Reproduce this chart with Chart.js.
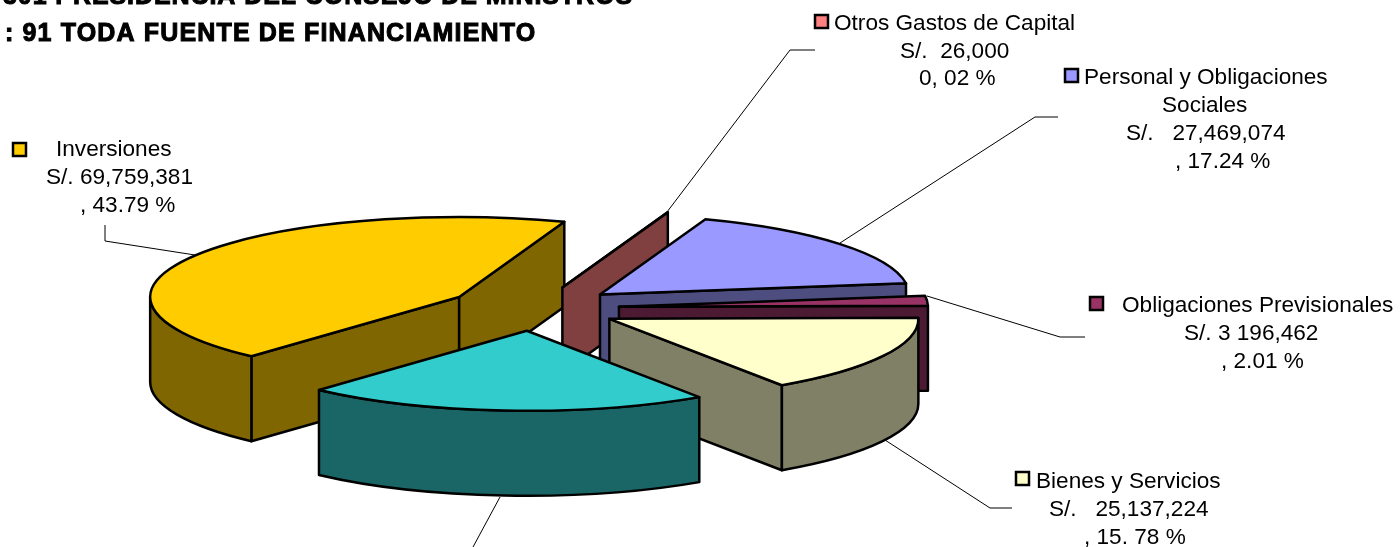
<!DOCTYPE html>
<html>
<head>
<meta charset="utf-8">
<title>Presidencia del Consejo de Ministros</title>
<script src="https://cdn.jsdelivr.net/npm/chart.js@4"></script>
<style>
    html, body { margin: 0; padding: 0; background: #fff; }
    canvas { display: block; }
</style>
</head>
<body>
<canvas id="pliego_pie" width="1400" height="547"></canvas>
<script>
// the last slice's label is cut off in the picture, its value is what is left of the total
const categories = ['Inversiones', 'Otros Gastos de Capital', 'Personal y Obligaciones Sociales', 'Obligaciones Previsionales', 'Bienes y Servicios', 'Resto'];
const amounts = [69759381, 26000, 27469074, 3196462, 25137224, 33716000];
const topColors = ['#FFCC00', '#FF8080', '#9999FF', '#993366', '#FFFFCC', '#33CCCC'];
const wallColors = ['#806600', '#804040', '#4D4D80', '#4D1A33', '#808066', '#1A6666'];

const titleLines = ['301 PRESIDENCIA DEL CONSEJO DE MINISTROS', ': 91 TODA FUENTE DE FINANCIAMIENTO'];
const titleSpots = [[3, 4, '0.92px'], [5, 41, '1.15px']];

// one text per line: [text, left, baseline]
const noteLines = [
    ['Inversiones', 56, 156], ['S/. 69,759,381', 46, 184], [', 43.79 %', 80, 212],
    ['Otros Gastos de Capital', 834, 30], ['S/.  26,000', 900, 58], ['0, 02 %', 919, 85],
    ['Personal y Obligaciones', 1084, 84], ['Sociales', 1162, 112], ['S/.   27,469,074', 1126, 140], [', 17.24 %', 1175, 168],
    ['Obligaciones Previsionales', 1122, 312], ['S/. 3 196,462', 1184, 340], [', 2.01 %', 1221, 368],
    ['Bienes y Servicios', 1036, 488], ['S/.   25,137,224', 1049, 516], [', 15. 78 %', 1084, 544]
];
const noteKeys = [[13, 143, 0], [815, 15, 1], [1065, 69, 2], [1090, 297, 3], [1016, 472, 4]];
const leaders = [
    [[105, 225], [105, 241], [195, 255]],
    [[815, 50], [790, 50], [667, 212]],
    [[1058, 117], [1035, 117], [840, 243]],
    [[1085, 337], [1060, 337], [927, 296]],
    [[1012, 508], [990, 508], [885, 440]],
    [[500, 497], [473, 547]]
];

// squashes the flat pie into the tilted disc and gives it walls
const tiltPlugin = {
    id: 'tilt',
    afterDatasetUpdate(chart, args, opts) {
        args.meta.data.forEach(function (arc) {
            const mid = (arc.startAngle + arc.endAngle) / 2;
            const push = arc.outerRadius * opts.explode;
            arc.x += Math.cos(mid) * push;
            arc.y += Math.sin(mid) * push;
        });
    },
    beforeDatasetsDraw(chart, args, opts) {
        const ctx = chart.ctx;
        const arcs = chart.getDatasetMeta(0).data;
        const view = makeView(chart, opts);
        ctx.save();
        ctx.lineWidth = 2.5;
        ctx.lineJoin = 'round';
        ctx.strokeStyle = '#000';
        arcs.forEach(function (arc, i) {
            drawWalls(ctx, arc, view, opts.depth, wallColors[i]);
        });
        ctx.restore();
        ctx.save();
        ctx.translate(opts.centerX, opts.centerY);
        ctx.scale(view.sx, view.sy);
        ctx.translate(-view.ox, -view.oy);
    },
    afterDatasetsDraw(chart, args, opts) {
        const ctx = chart.ctx;
        ctx.restore();
        const view = makeView(chart, opts);
        ctx.save();
        ctx.lineWidth = 2.5;
        ctx.lineJoin = 'round';
        ctx.strokeStyle = '#000';
        chart.getDatasetMeta(0).data.forEach(function (arc) {
            const apex = project(arc, view);
            ctx.beginPath();
            ctx.moveTo(apex.x, apex.y);
            ctx.ellipse(apex.x, apex.y, view.a, view.b, 0, arc.startAngle, arc.endAngle);
            ctx.closePath();
            ctx.stroke();
        });
        ctx.restore();
    }
};

function makeView(chart, opts) {
    const first = chart.getDatasetMeta(0).data[0];
    const r = first.outerRadius;
    return {
        a: opts.radiusX, b: opts.radiusY,
        sx: opts.radiusX / r, sy: opts.radiusY / r,
        ox: (chart.chartArea.left + chart.chartArea.right) / 2,
        oy: (chart.chartArea.top + chart.chartArea.bottom) / 2,
        cx: opts.centerX, cy: opts.centerY
    };
}

function project(arc, view) {
    return { x: view.cx + (arc.x - view.ox) * view.sx, y: view.cy + (arc.y - view.oy) * view.sy };
}

function drawFace(ctx, x1, y1, x2, y2, depth, color) {
    ctx.fillStyle = color;
    ctx.beginPath();
    ctx.moveTo(x1, y1);
    ctx.lineTo(x2, y2);
    ctx.lineTo(x2, y2 + depth);
    ctx.lineTo(x1, y1 + depth);
    ctx.closePath();
    ctx.fill();
    ctx.stroke();
}

function drawWalls(ctx, arc, view, depth, color) {
    const apex = project(arc, view);
    const edge = function (t) {
        return { x: apex.x + Math.cos(t) * view.a, y: apex.y + Math.sin(t) * view.b };
    };
    // a cut face shows only when it looks down towards the viewer
    if (Math.cos(arc.startAngle) < 0) {
        const p = edge(arc.startAngle);
        drawFace(ctx, apex.x, apex.y, p.x, p.y, depth, color);
    }
    if (Math.cos(arc.endAngle) > 0) {
        const p = edge(arc.endAngle);
        drawFace(ctx, apex.x, apex.y, p.x, p.y, depth, color);
    }
    // outer rim, front half only
    for (let k = -1; k <= 1; k++) {
        const from = Math.max(arc.startAngle + k * 2 * Math.PI, 0);
        const to = Math.min(arc.endAngle + k * 2 * Math.PI, Math.PI);
        if (to <= from) continue;
        ctx.fillStyle = color;
        ctx.beginPath();
        ctx.ellipse(apex.x, apex.y, view.a, view.b, 0, from, to);
        ctx.ellipse(apex.x, apex.y + depth, view.a, view.b, 0, to, from, true);
        ctx.closePath();
        ctx.fill();
        ctx.stroke();
    }
}

const notesPlugin = {
    id: 'notes',
    afterDraw(chart) {
        const ctx = chart.ctx;
        ctx.save();
        ctx.strokeStyle = '#000';
        ctx.lineWidth = 1;
        leaders.forEach(function (line) {
            ctx.beginPath();
            line.forEach(function (pt, i) {
                if (i === 0) ctx.moveTo(pt[0], pt[1]);
                else ctx.lineTo(pt[0], pt[1]);
            });
            ctx.stroke();
        });

        noteKeys.forEach(function (key) {
            ctx.fillStyle = topColors[key[2]];
            ctx.lineWidth = 2.5;
            ctx.fillRect(key[0], key[1], 13, 13);
            ctx.strokeRect(key[0], key[1], 13, 13);
        });

        ctx.fillStyle = '#000';
        ctx.textBaseline = 'alphabetic';
        ctx.textAlign = 'left';
        ctx.font = '22.6px "Liberation Sans"';
        noteLines.forEach(function (n) {
            ctx.fillText(n[0], n[1], n[2]);
        });

        ctx.font = 'bold 25px "Liberation Sans"';
        ctx.lineWidth = 1;
        titleLines.forEach(function (t, i) {
            ctx.letterSpacing = titleSpots[i][2];
            ctx.fillText(t, titleSpots[i][0], titleSpots[i][1]);
            ctx.strokeText(t, titleSpots[i][0], titleSpots[i][1]);
        });
        ctx.restore();
    }
};

new Chart(document.getElementById('pliego_pie'), {
    type: 'pie',
    data: {
        labels: categories,
        datasets: [{
            data: amounts,
            backgroundColor: topColors,
            borderWidth: 0,
            clip: false
        }]
    },
    options: {
        responsive: false,
        animation: false,
        rotation: -137.75,
        plugins: {
            legend: { display: false },
            tooltip: { enabled: false },
            tilt: { centerX: 533, centerY: 308.5, radiusX: 309, radiusY: 80, depth: 85, explode: 0.279 }
        }
    },
    plugins: [tiltPlugin, notesPlugin]
});
</script>
</body>
</html>
